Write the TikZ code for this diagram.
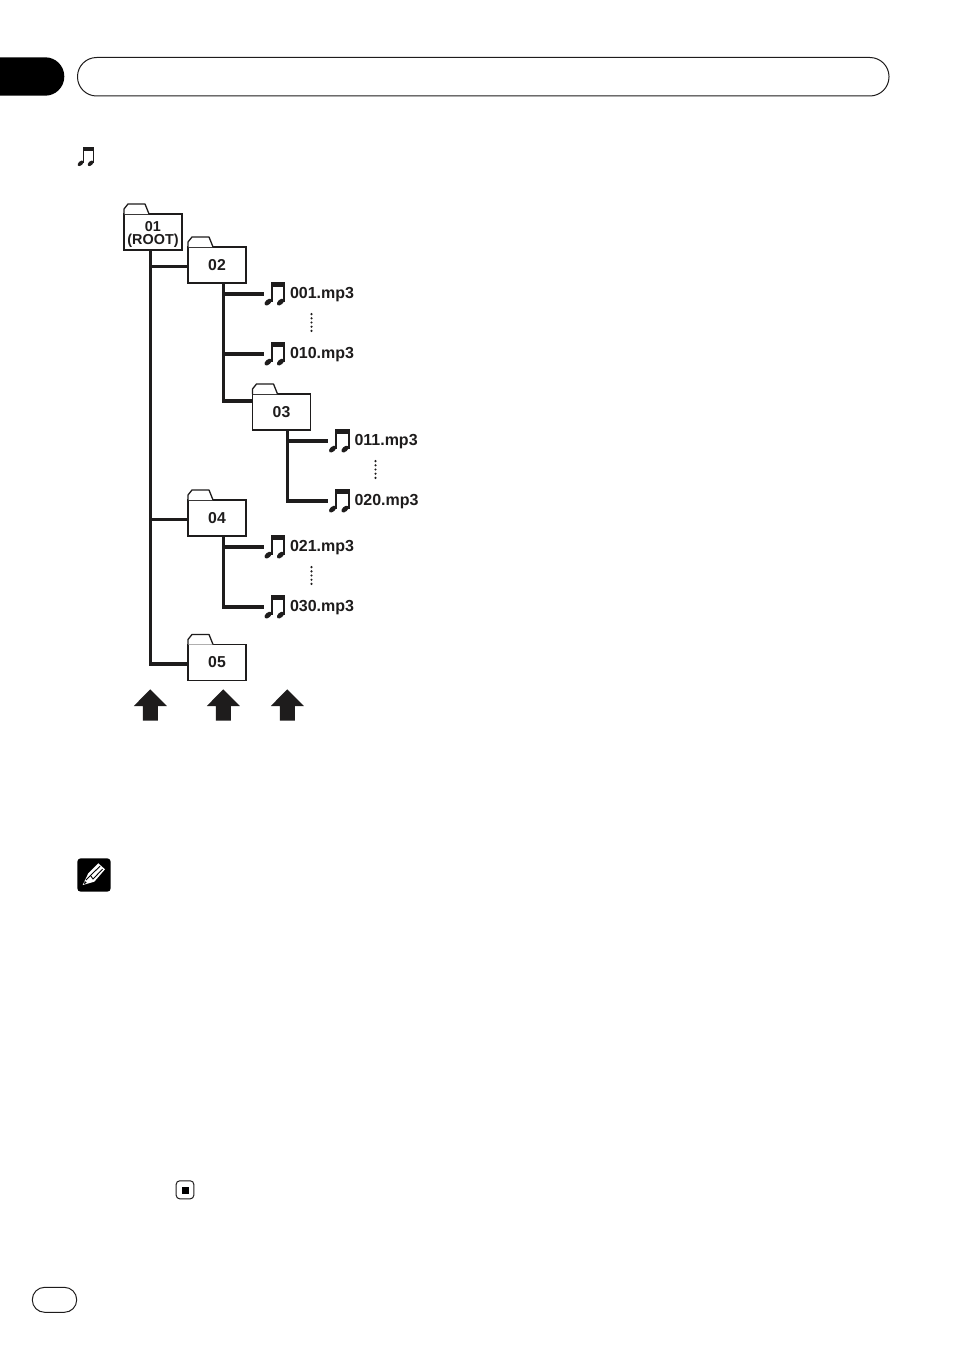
\documentclass[tikz,border=0pt]{standalone}
\usepackage{fontspec}
\setmainfont{Liberation Sans}
\definecolor{ink}{RGB}{30,28,28}
\tikzset{
  x=1pt,y=-1pt,
  folderbox/.style={draw=ink,line width=1.3pt,fill=white,minimum width=58pt,minimum height=36pt,inner sep=0pt,outer sep=0pt,font=\bfseries\fontsize{15.8}{13}\selectfont,text=ink,align=center},
  rootlabel/.style={font=\bfseries\fontsize{14.4}{13}\selectfont},
  foldertab/.style={draw=ink,line width=1.3pt,line join=round},
  notebox/.style={minimum width=22pt,minimum height=24pt,inner sep=0pt,outer sep=0pt},
  filelabel/.style={anchor=base west,inner sep=0pt,outer sep=0pt,font=\bfseries\fontsize{16}{18}\selectfont,text=ink},
  trunkline/.style={draw=ink,line width=3.2pt},
  thinbranch/.style={draw=ink,line width=3pt},
  thickbranch/.style={draw=ink,line width=4pt},
  pill/.style={draw=ink,line width=1pt,fill=white},
}
% folder: [extra style], name, centre x, centre y, text
\newcommand{\folderat}[5][]{%
  \node[folderbox,#1] (#2) at (#3,#4) {#5};
  \draw[foldertab,fill=white] (#2.north west) -- +(0,-5) -- +(4,-10) -- +(21,-10) -- +(25,0);
}
% note glyph: beam top-left at (#1,#2), scale #3
\newcommand{\noteglyph}[3]{%
  \begin{scope}[shift={(#1,#2)},scale=#3]
    \fill[ink] (0,0) rectangle (14.4,5);
    \fill[ink] (0,0) rectangle (2,19.5);
    \fill[ink] (12.4,0) rectangle (14.4,19.5);
    \fill[ink,rotate around={42:(-2.6,19.8)}] (-2.6,19.8) ellipse (4.3 and 2.5);
    \fill[ink,rotate around={42:(9.8,19.8)}] (9.8,19.8) ellipse (4.3 and 2.5);
  \end{scope}%
}
% file entry: name, centre x, centre y, text
\newcommand{\fileat}[4]{%
  \node[notebox] (#1) at (#2,#3) {};
  \noteglyph{#2-3.8}{#3-11.7}{1}
  \node[filelabel] (#1t) at (#2+15.5,#3+4) {#4};
}
\newcommand{\vdotsat}[2]{%
  \foreach \k in {0,1,2,3,4} \fill[ink] (#1,#2-8.4+4.2*\k) circle (1.2);
}
\newcommand{\uparrowat}[1]{%
  \fill[ink] (#1,689.3) -- (#1+16.5,706) -- (#1+7.5,706) -- (#1+7.5,720.7) -- (#1-7.5,720.7) -- (#1-7.5,706) -- (#1-16.5,706) -- cycle;
}
\begin{document}
\begin{tikzpicture}
\useasboundingbox (0,0) rectangle (954,1351);
\fill[white] (0,0) rectangle (954,1351);

% header
\begin{scope}
  \clip (0,0) rectangle (954,1351);
  \fill[black,rounded corners=19.1pt] (-40,57.3) rectangle (64.3,95.7);
\end{scope}
\draw[pill,rounded corners=19.1pt] (77.5,57.5) rectangle (889,96);

% small note
\noteglyph{82.7}{147.3}{0.81}

% folders
\folderat[rootlabel]{f01}{153}{232}{\rule{0pt}{15pt}01\\(ROOT)}
\folderat{f02}{217}{265}{02}
\folderat{f03}{281.5}{412}{03}
\folderat{f04}{217}{518}{04}
\folderat{f05}{217}{662.5}{05}

% files
\fileat{n001}{274.5}{294}{001.mp3}
\fileat{n010}{274.5}{354}{010.mp3}
\fileat{n011}{339}{441}{011.mp3}
\fileat{n020}{339}{501}{020.mp3}
\fileat{n021}{274.5}{547}{021.mp3}
\fileat{n030}{274.5}{607}{030.mp3}

\vdotsat{311.5}{322.5}
\vdotsat{375.5}{469.5}
\vdotsat{311.5}{575.5}

% connectors
\coordinate (v01) at ([xshift=-2.5pt]f01.south);
\coordinate (v02) at ([xshift=6.5pt]f02.south);
\coordinate (v03) at ([xshift=6pt]f03.south);
\coordinate (v04) at ([xshift=6.5pt]f04.south);
\coordinate (p02) at ([yshift=-1pt]f02.west);
\coordinate (p03) at ([yshift=11pt]f03.west);
\coordinate (p04) at ([yshift=-1pt]f04.west);
\coordinate (p05) at ([yshift=-1.5pt]f05.west);

\draw[trunkline] (v01) |- (p05);
\draw[thinbranch] (p02 -| v01) -- (p02);
\draw[thinbranch] (p04 -| v01) -- (p04);

\draw[trunkline] (v02) |- (p03);
\draw[thickbranch] (n001.west -| v02) -- (n001.west);
\draw[trunkline] (n010.west -| v02) -- (n010.west);

\draw[trunkline] (v03) |- (n020.west);
\draw[trunkline] (n011.west -| v03) -- (n011.west);

\draw[trunkline] (v04) |- (n030.west);
\draw[thickbranch] (n021.west -| v04) -- (n021.west);

% level arrows
\uparrowat{150.3}
\uparrowat{223.3}
\uparrowat{287.3}

% note icon
\fill[black,rounded corners=3.5pt] (77.3,858.3) rectangle (110.7,891.7);
\fill[white] (82.7,885) -- (88.3,873.3) -- (98.3,863.3) -- (105,869.3) -- (94.3,881.7) -- cycle;
\draw[black,line width=0.9pt] (86,880) -- (90.5,875.5) -- (100,866.2);
\draw[black,line width=0.9pt] (90.5,875.5) -- (93,879) -- (102.5,869.2);
\fill[black] (84,884) -- (84.8,881) -- (86.8,882.8) -- cycle;

% end mark
\draw[ink,line width=1pt,rounded corners=3.5pt] (176.2,1180.8) rectangle (193.8,1198.8);
\fill[black] (181.8,1187) rectangle (188.8,1194);

% page number pill
\draw[pill,rounded corners=12.4pt] (32.3,1287.3) rectangle (76.7,1312.3);
\end{tikzpicture}
\end{document}
